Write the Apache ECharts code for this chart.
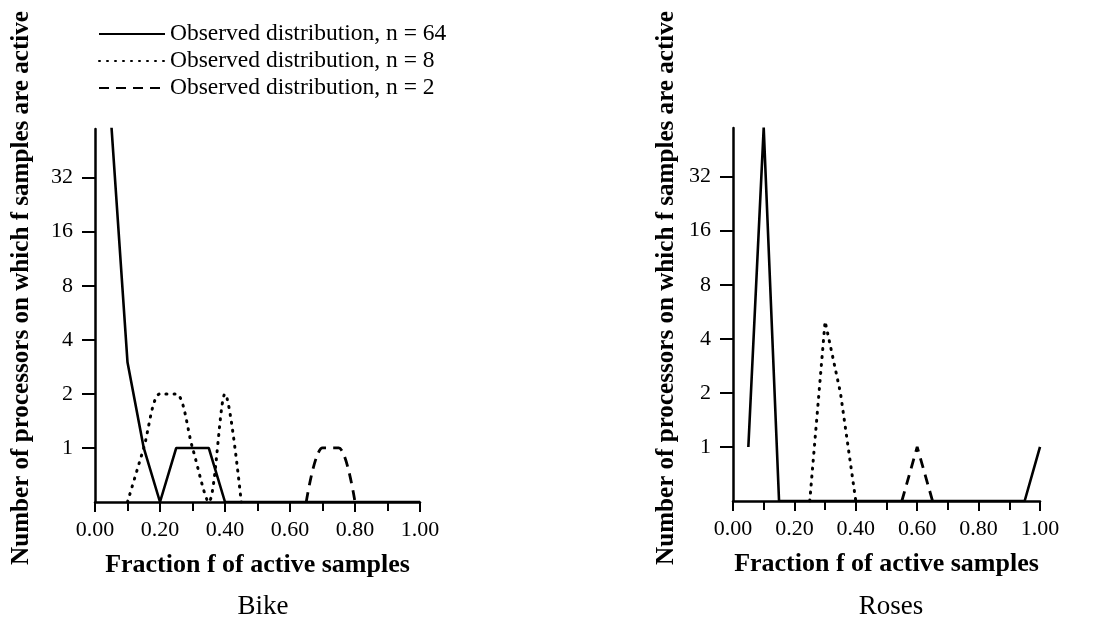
<!DOCTYPE html>
<html>
<head>
<meta charset="utf-8">
<script src="https://cdn.jsdelivr.net/npm/echarts@6/dist/echarts.min.js"></script>
<style>
  html, body { margin: 0; padding: 0; background: #ffffff; }
  #main { width: 1096px; height: 619px; }
</style>
</head>
<body>
<div id="main"></div>
<script>
// fraction f of active samples (x positions of the observed points)
var fractions = [0.00, 0.05, 0.10, 0.15, 0.20, 0.25, 0.30, 0.35, 0.40, 0.45, 0.50,
                 0.55, 0.60, 0.65, 0.70, 0.75, 0.80, 0.85, 0.90, 0.95, 1.00];

// number of processors, Bike
var bike64 = [null, 64, 3, 1, 0, 1, 1, 1, 0, 0, 0, 0, 0, 0, 0, 0, 0, 0, 0, 0, 0];
var bike8  = [null, null, 0, 1, 2, 2, 1, 0, 2, 0, null, null, null, null, null, null, null, null, null, null, null];
var bike2  = [null, null, null, null, null, null, null, null, null, null, null, null, null, 0, 1, 1, 0, null, null, null, null];

// number of processors, Roses
var roses64 = [null, 1, 60, 0, 0, 0, 0, 0, 0, 0, 0, 0, 0, 0, 0, 0, 0, 0, 0, 0, 1];
var roses8  = [null, null, null, null, null, 0, 5, 2, 0, null, null, null, null, null, null, null, null, null, null, null, null];
var roses2  = [null, null, null, null, null, null, null, null, null, null, null, 0, 1, 0, null, null, null, null, null, null, null];

var seriesNames = ['Observed distribution, n = 64', 'Observed distribution, n = 8', 'Observed distribution, n = 2'];
var panelTitles = ['Bike', 'Roses'];
var xTitle = 'Fraction f of active samples';
var yTitle = 'Number of processors on which f samples are active';
var yTickPowers = [0, 1, 2, 3, 4, 5];   // 1, 2, 4, 8, 16, 32

var serif = '"Liberation Serif", "DejaVu Serif", serif';

// log2 scale, zero counts sit on the baseline
function toPoints(values) {
    var out = [];
    for (var i = 0; i < fractions.length; i++) {
        var v = values[i];
        if (v === null) { out.push([fractions[i], null]); continue; }
        out.push([fractions[i], v <= 0 ? -1 : Math.log2(v)]);
    }
    return out;
}

var styles = [
    { type: 'solid', width: 2.6 },
    { type: [1, 7], width: 3, cap: 'round' },
    { type: [10, 7], width: 2.8 }
];

function makeSeries(values, k, axis, smooth) {
    return {
        name: seriesNames[k],
        type: 'line',
        xAxisIndex: axis,
        yAxisIndex: axis,
        data: toPoints(values),
        symbol: 'none',
        smooth: smooth,
        connectNulls: false,
        lineStyle: { color: '#000', type: styles[k].type, width: styles[k].width, cap: styles[k].cap || 'butt' },
        itemStyle: { color: '#000' },
        z: 5
    };
}

function xAxisCfg(idx) {
    return {
        type: 'value', gridIndex: idx, min: 0, max: 1, interval: 0.2,
        name: xTitle, nameLocation: 'middle', nameGap: 50,
        nameTextStyle: { fontFamily: serif, fontSize: 26, fontWeight: 'bold', color: '#000' },
        axisLine: { onZero: false, lineStyle: { color: '#000', width: 2.5 } },
        axisTick: { show: true, length: 10, lineStyle: { color: '#000', width: 2 } },
        minorTick: { show: true, splitNumber: 2, length: 9, lineStyle: { color: '#000', width: 2 } },
        axisLabel: { fontFamily: serif, fontSize: 22, color: '#000', margin: 17,
            formatter: function (v) { return v.toFixed(2); } },
        splitLine: { show: false }
    };
}

function yAxisCfg(idx) {
    return {
        type: 'value', gridIndex: idx, min: -1, max: 5.9,
        axisLine: { show: true, onZero: false, lineStyle: { color: '#000', width: 2.5 } },
        axisTick: { show: true, length: 13, customValues: yTickPowers, lineStyle: { color: '#000', width: 2 } },
        axisLabel: { fontFamily: serif, fontSize: 22, color: '#000', margin: 22,
            customValues: yTickPowers,
            formatter: function (v) { return String(Math.round(Math.pow(2, v))); } },
        splitLine: { show: false }
    };
}

var myChart = echarts.init(document.getElementById('main'));

var option = {
    backgroundColor: '#ffffff',
    animation: false,
    title: [
        { text: panelTitles[0], left: 258, top: 588, textAlign: 'center',
          textStyle: { fontFamily: serif, fontSize: 27, fontWeight: 'normal', color: '#000' } },
        { text: panelTitles[1], left: 886, top: 588, textAlign: 'center',
          textStyle: { fontFamily: serif, fontSize: 27, fontWeight: 'normal', color: '#000' } }
    ],
    legend: {
        orient: 'vertical', left: 93, top: 17,
        itemWidth: 66, itemHeight: 12, itemGap: 3,
        data: seriesNames,
        itemStyle: { opacity: 0 },
        textStyle: { fontFamily: serif, fontSize: 23.5, color: '#000' },
        selectedMode: false
    },
    grid: [
        { left: 95, top: 129, width: 325, height: 373 },
        { left: 733, top: 128, width: 307, height: 373 }
    ],
    xAxis: [xAxisCfg(0), xAxisCfg(1)],
    yAxis: [yAxisCfg(0), yAxisCfg(1)],
    graphic: [
        { type: 'text', x: 22, y: 288, rotation: Math.PI / 2,
          style: { text: yTitle, fontFamily: serif, fontSize: 25.1, fontWeight: 'bold', fill: '#000',
                   align: 'center', verticalAlign: 'middle' } },
        { type: 'text', x: 667, y: 288, rotation: Math.PI / 2,
          style: { text: yTitle, fontFamily: serif, fontSize: 25.1, fontWeight: 'bold', fill: '#000',
                   align: 'center', verticalAlign: 'middle' } }
    ],
    series: [
        makeSeries(bike64, 0, 0, false),
        makeSeries(bike8, 1, 0, 0.3),
        makeSeries(bike2, 2, 0, 0.3),
        makeSeries(roses64, 0, 1, false),
        makeSeries(roses8, 1, 1, false),
        makeSeries(roses2, 2, 1, false)
    ]
};

myChart.setOption(option);
</script>
</body>
</html>
